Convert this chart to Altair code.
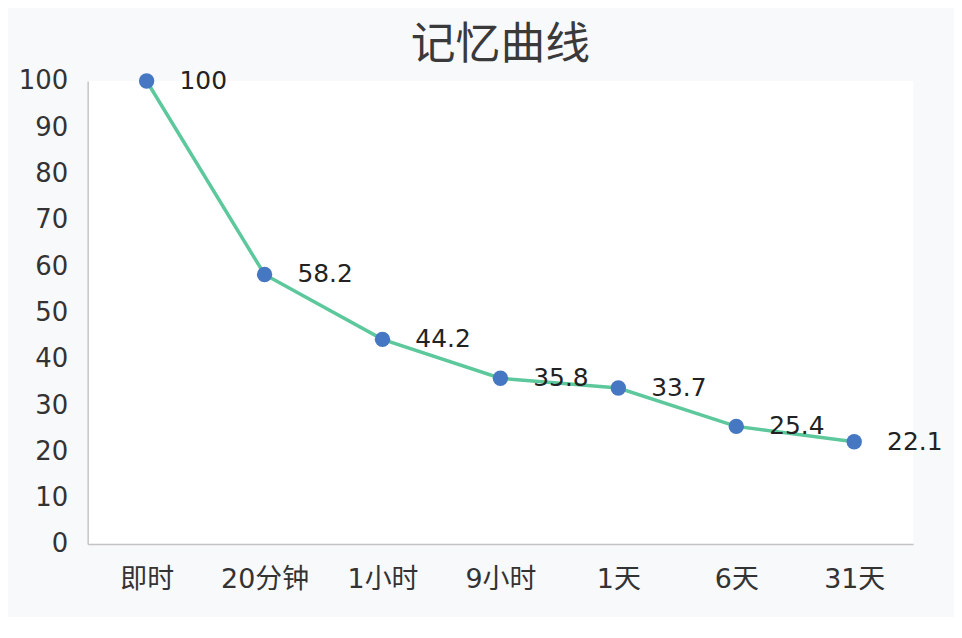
import pandas as pd
import altair as alt

# Forgetting curve data
stages = ["即时", "20分钟", "1小时", "9小时", "1天", "6天", "31天"]
retention = [100, 58.2, 44.2, 35.8, 33.7, 25.4, 22.1]

df = pd.DataFrame({"stage": stages, "value": retention})

font = "DejaVu Sans, Noto Sans CJK SC"
cjk = "Noto Sans CJK SC"

x_enc = alt.X("stage:N", sort=stages, title=None,
              scale=alt.Scale(paddingInner=0, paddingOuter=0),
              axis=alt.Axis(labelAngle=0, labelFontSize=27, labelColor="#333333",
                            labelFont=font, labelPadding=23, ticks=False,
                            domainColor="#c4c4c4", domainWidth=1.5))
y_enc = alt.Y("value:Q", title=None,
              scale=alt.Scale(domain=[0, 100], nice=False),
              axis=alt.Axis(values=list(range(0, 101, 10)), labelFontSize=26,
                            labelColor="#333333", labelFont=font, labelPadding=20,
                            ticks=False, grid=False, domainColor="#c4c4c4",
                            domainWidth=1.5))

base = alt.Chart(df).encode(x=x_enc, y=y_enc)

line = base.mark_line(color="#5cc89c", strokeWidth=3.5)
points = base.mark_circle(color="#4677c3", size=240, opacity=1)
labels = base.mark_text(align="left", baseline="middle", dx=33, fontSize=25,
                        font=font, color="#222222").encode(text=alt.Text("value:Q"))

chart = (line + points + labels).properties(
    width=829,
    height=465,
    title=alt.TitleParams("记忆曲线", fontSize=45, font=cjk, fontWeight="normal",
                          color="#3a3a3a", anchor="middle", offset=0),
    background="#f8f9fb",
    padding={"left": 80, "top": 72, "right": 41, "bottom": 72},
    autosize=alt.AutoSizeParams(type="none"),
).configure_view(fill="white", stroke=None)

chart.save("out.html", embed_options={"renderer": "svg", "actions": False})
